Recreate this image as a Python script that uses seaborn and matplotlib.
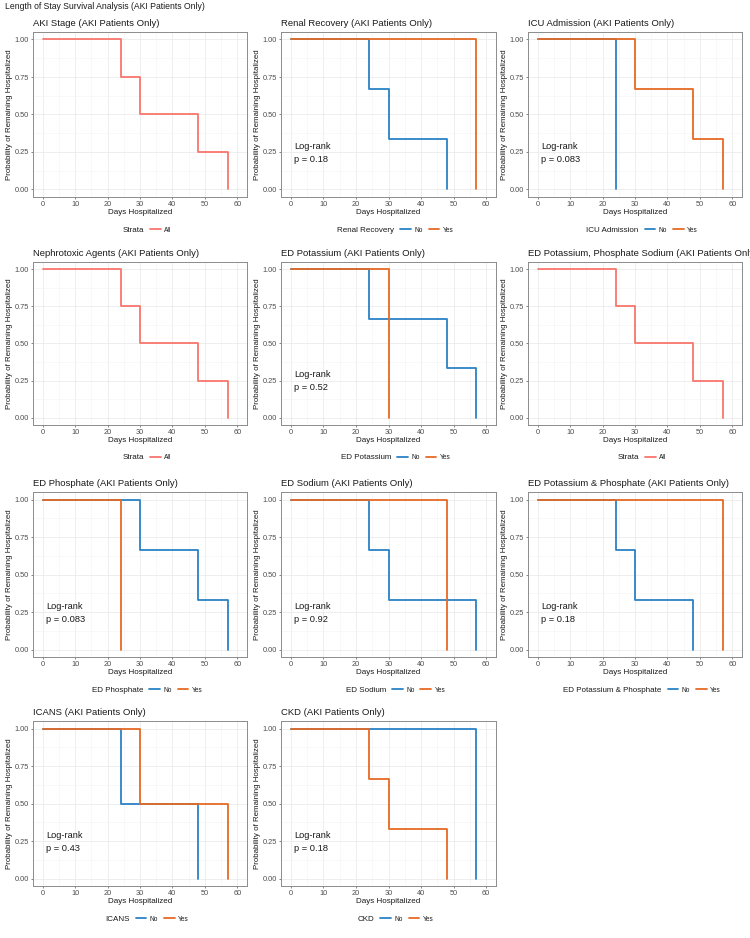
import numpy as np
import pandas as pd
import matplotlib
matplotlib.use("Agg")
import matplotlib.pyplot as plt
from matplotlib.lines import Line2D
from matplotlib.ticker import MultipleLocator
import seaborn as sns

# panel titles, legend titles and event times (days)
panel_titles = [
    "AKI Stage (AKI Patients Only)",
    "Renal Recovery (AKI Patients Only)",
    "ICU Admission (AKI Patients Only)",
    "Nephrotoxic Agents (AKI Patients Only)",
    "ED Potassium (AKI Patients Only)",
    "ED Potassium, Phosphate Sodium (AKI Patients Only)",
    "ED Phosphate (AKI Patients Only)",
    "ED Sodium (AKI Patients Only)",
    "ED Potassium & Phosphate (AKI Patients Only)",
    "ICANS (AKI Patients Only)",
    "CKD (AKI Patients Only)",
]
legend_titles = ["Strata", "Renal Recovery", "ICU Admission", "Strata",
                 "ED Potassium", "Strata", "ED Phosphate", "ED Sodium",
                 "ED Potassium & Phosphate", "ICANS", "CKD"]
pvalues = [None, "0.18", "0.083", None, "0.52", None, "0.083", "0.92",
           "0.18", "0.43", "0.18"]

all_times = [24, 30, 48, 57]
renal_no, renal_yes = [24, 30, 48], [57]
icu_no, icu_yes = [24], [30, 48, 57]
potassium_no, potassium_yes = [24, 48, 57], [30]
phosphate_no, phosphate_yes = [30, 48, 57], [24]
sodium_no, sodium_yes = [24, 30, 57], [48]
kphos_no, kphos_yes = [24, 30, 48], [57]
icans_no, icans_yes = [24, 48], [30, 57]
ckd_no, ckd_yes = [57], [24, 30, 48]

groups = [
    {"All": all_times},
    {"No": renal_no, "Yes": renal_yes},
    {"No": icu_no, "Yes": icu_yes},
    {"All": all_times},
    {"No": potassium_no, "Yes": potassium_yes},
    {"All": all_times},
    {"No": phosphate_no, "Yes": phosphate_yes},
    {"No": sodium_no, "Yes": sodium_yes},
    {"No": kphos_no, "Yes": kphos_yes},
    {"No": icans_no, "Yes": icans_yes},
    {"No": ckd_no, "Yes": ckd_yes},
]

palette = {"All": "#F8766D", "No": "#2A82C6", "Yes": "#E56A25"}


def km_frame(group_dict):
    """Kaplan-Meier curve (no censoring) for each group"""
    rows = []
    for name, times in group_dict.items():
        t = sorted(times)
        n = len(t)
        rows.append((0, 1.0, name))
        for k, ti in enumerate(t):
            rows.append((ti, 1 - (k + 1) / n, name))
    return pd.DataFrame(rows, columns=["time", "surv", "group"])


sns.set_theme(style="white")
plt.rcParams["font.family"] = ["Liberation Sans", "DejaVu Sans"]

W, H = 750, 938
fig = plt.figure(figsize=(W / 100, H / 100), dpi=100)

col_lr = [(33, 247), (281, 496), (528, 742)]
row_tb = [(32, 197), (262, 425), (492, 657), (721, 886)]

fig.text(5 / W, 1 - 2 / H, "Length of Stay Survival Analysis (AKI Patients Only)",
         fontsize=6.2, ha="left", va="top", color="#1A1A1A")

for i, title in enumerate(panel_titles):
    r, c = divmod(i, 3)
    l, rr = col_lr[c]
    t, b = row_tb[r]
    ax = fig.add_axes([l / W, 1 - b / H, (rr - l) / W, (b - t) / H])

    df = km_frame(groups[i])
    sns.lineplot(data=df, x="time", y="surv", hue="group", palette=palette,
                 drawstyle="steps-post", estimator=None, legend=False,
                 linewidth=1.3, ax=ax)

    ax.set_xlim(-3, 63)
    ax.set_ylim(-0.05, 1.05)
    ax.xaxis.set_major_locator(MultipleLocator(10))
    ax.xaxis.set_minor_locator(MultipleLocator(5))
    ax.yaxis.set_major_locator(MultipleLocator(0.25))
    ax.yaxis.set_minor_locator(MultipleLocator(0.125))
    ax.set_yticks([0, 0.25, 0.5, 0.75, 1.0])
    ax.set_yticklabels(["0.00", "0.25", "0.50", "0.75", "1.00"])
    ax.grid(which="major", color="#EBEBEB", linewidth=0.6)
    ax.grid(which="minor", color="#F3F3F3", linewidth=0.4)
    ax.set_axisbelow(True)
    for sp in ax.spines.values():
        sp.set_color("#8C8C8C")
        sp.set_linewidth(0.7)
    ax.tick_params(which="major", length=1.6, width=0.5, color="#555555",
                   labelsize=5.3, labelcolor="#4D4D4D", pad=1.2, bottom=True, left=True)
    ax.tick_params(which="minor", length=0)

    ax.set_xlabel("Days Hospitalized", fontsize=5.8, color="#1A1A1A", labelpad=1)
    ax.set_ylabel("Probability of Remaining Hospitalized", fontsize=5.7,
                  color="#1A1A1A", labelpad=1.5)
    ax.set_title(title, loc="left", fontsize=6.8, color="#1A1A1A", pad=4)

    if pvalues[i] is not None:
        ax.text(1, 0.245, f"Log-rank\np = {pvalues[i]}", fontsize=6.7,
                ha="left", va="center", linespacing=1.6, color="#1A1A1A")

    # ggplot-style horizontal legend with title on the left
    handles = [Line2D([], [], alpha=0)]
    labels = [legend_titles[i]]
    for name in groups[i]:
        handles.append(Line2D([], [], color=palette[name], linewidth=1.3))
        labels.append(name)
    leg = ax.legend(handles, labels, loc="center", bbox_to_anchor=(0.5, -0.2),
                    ncol=len(labels), frameon=False, fontsize=4.8,
                    handlelength=1.6, handletextpad=0.5, columnspacing=0.9)
    texts = leg.get_texts()
    texts[0].set_fontsize(5.8)
    leg.legend_handles[0].set_visible(False)
    for txt in texts:
        txt.set_color("#1A1A1A")

fig.savefig("out.png", dpi=100)
